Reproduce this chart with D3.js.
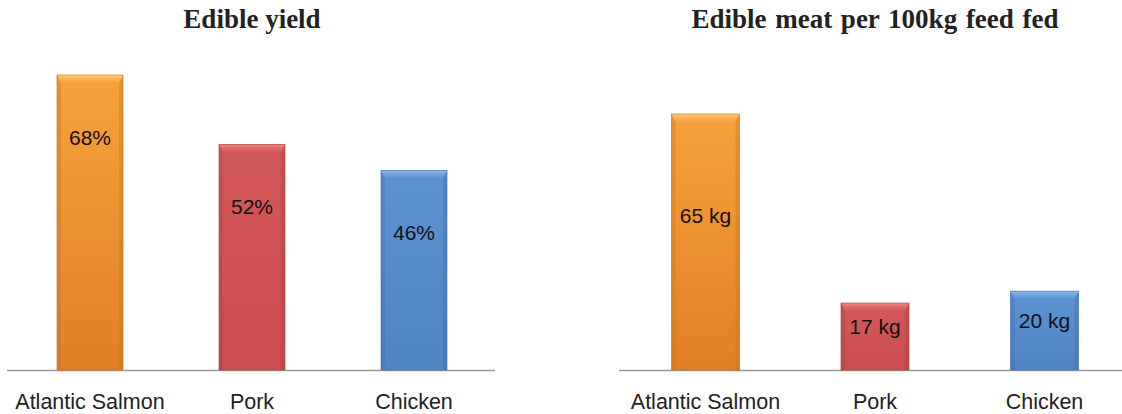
<!DOCTYPE html>
<html><head><meta charset="utf-8">
<script src="https://cdn.jsdelivr.net/npm/d3@7"></script>
<style>html,body{margin:0;padding:0;background:#fff;}svg{display:block;}</style>
</head><body>
<svg id="c" width="1122" height="414"></svg>
<script>
const categories = ["Atlantic Salmon", "Pork", "Chicken"];
const yieldValues = [68, 52, 46];
const yieldLabels = ["68%", "52%", "46%"];
const meatValues = [65, 17, 20];
const meatLabels = ["65 kg", "17 kg", "20 kg"];
const titles = ["Edible yield", "Edible meat per 100kg feed fed"];

const colors = [
  {top:"#F6A23C", bot:"#E17F24", edge:"#C9701E", light:"#FFD27A"},
  {top:"#D35858", bot:"#C94D4D", edge:"#A83E3E", light:"#EE8A8A"},
  {top:"#5C93D3", bot:"#4F84C3", edge:"#3F6EA8", light:"#93BDEE"}
];

const svg = d3.select("#c");
const defs = svg.append("defs");
colors.forEach((c,i)=>{
  const g = defs.append("linearGradient").attr("id","g"+i).attr("x1",0).attr("y1",0).attr("x2",0).attr("y2",1);
  g.append("stop").attr("offset","0%").attr("stop-color",c.top);
  g.append("stop").attr("offset","100%").attr("stop-color",c.bot);
  const b = defs.append("linearGradient").attr("id","b"+i).attr("x1",0).attr("y1",0).attr("x2",0).attr("y2",1);
  b.append("stop").attr("offset","0%").attr("stop-color",c.light).attr("stop-opacity",0.95);
  b.append("stop").attr("offset","100%").attr("stop-color",c.top).attr("stop-opacity",0.6);
});

const baseY = 370;

function panel(opts){
  const x = d3.scaleBand().domain(categories).range(opts.range)
    .paddingInner(opts.pad).paddingOuter(opts.pad/2);
  const y = d3.scaleLinear().domain([0, opts.max]).range([baseY, opts.topY]);
  const g = svg.append("g");

  g.append("line").attr("x1",opts.axis[0]).attr("x2",opts.axis[1])
    .attr("y1",baseY+0.5).attr("y2",baseY+0.5)
    .attr("stroke","#9a9a9a").attr("stroke-width",1.5);

  const w = x.bandwidth();
  categories.forEach((cat,i)=>{
    const x0 = x(cat), top = y(opts.values[i]), h = baseY - top;
    const c = colors[i];
    const bg = g.append("g");
    bg.append("rect").attr("x",x0).attr("y",top).attr("width",w).attr("height",h)
      .attr("fill","url(#g"+i+")");
    bg.append("polygon").attr("points",[[x0,top],[x0+4,top+8],[x0+4,baseY],[x0,baseY]].join(" "))
      .attr("fill",c.edge).attr("opacity",0.35);
    bg.append("polygon").attr("points",[[x0+w,top],[x0+w-4,top+8],[x0+w-4,baseY],[x0+w,baseY]].join(" "))
      .attr("fill",c.edge).attr("opacity",0.35);
    bg.append("polygon").attr("points",[[x0,top],[x0+w,top],[x0+w-4,top+8],[x0+4,top+8]].join(" "))
      .attr("fill","url(#b"+i+")");
    bg.append("rect").attr("x",x0).attr("y",top).attr("width",w).attr("height",h)
      .attr("fill","none").attr("stroke",c.edge).attr("stroke-width",1).attr("stroke-opacity",0.6);

    g.append("text").attr("x",x0+w/2).attr("y",opts.labelY(top,h))
      .attr("text-anchor","middle").attr("font-family","Liberation Sans, Arial, sans-serif")
      .attr("font-size",21).attr("fill","#111").text(opts.labels[i]);

    g.append("text").attr("x",x0+w/2).attr("y",409)
      .attr("text-anchor","middle").attr("font-family","Liberation Sans, Arial, sans-serif")
      .attr("font-size",21.5).attr("fill","#222").text(cat);
  });

  g.append("text").attr("x",opts.titleX).attr("y",28)
    .attr("text-anchor","middle").attr("font-family","Liberation Serif, Times New Roman, serif")
    .attr("font-weight","bold").attr("font-size",27).attr("fill","#222")
    .attr("word-spacing",opts.ws).text(opts.title);
}

panel({range:[9,495], pad:1-66/162, max:68, topY:75, axis:[7,495],
  values:yieldValues, labels:yieldLabels, title:titles[0], titleX:252, ws:0,
  labelY:(top,h)=>top+70});
panel({range:[620.75,1129.25], pad:1-68/169.5, max:65, topY:114, axis:[619,1122],
  values:meatValues, labels:meatLabels, title:titles[1], titleX:875, ws:2,
  labelY:(top,h)=>top+4+0.41*h});
</script>
</body></html>
